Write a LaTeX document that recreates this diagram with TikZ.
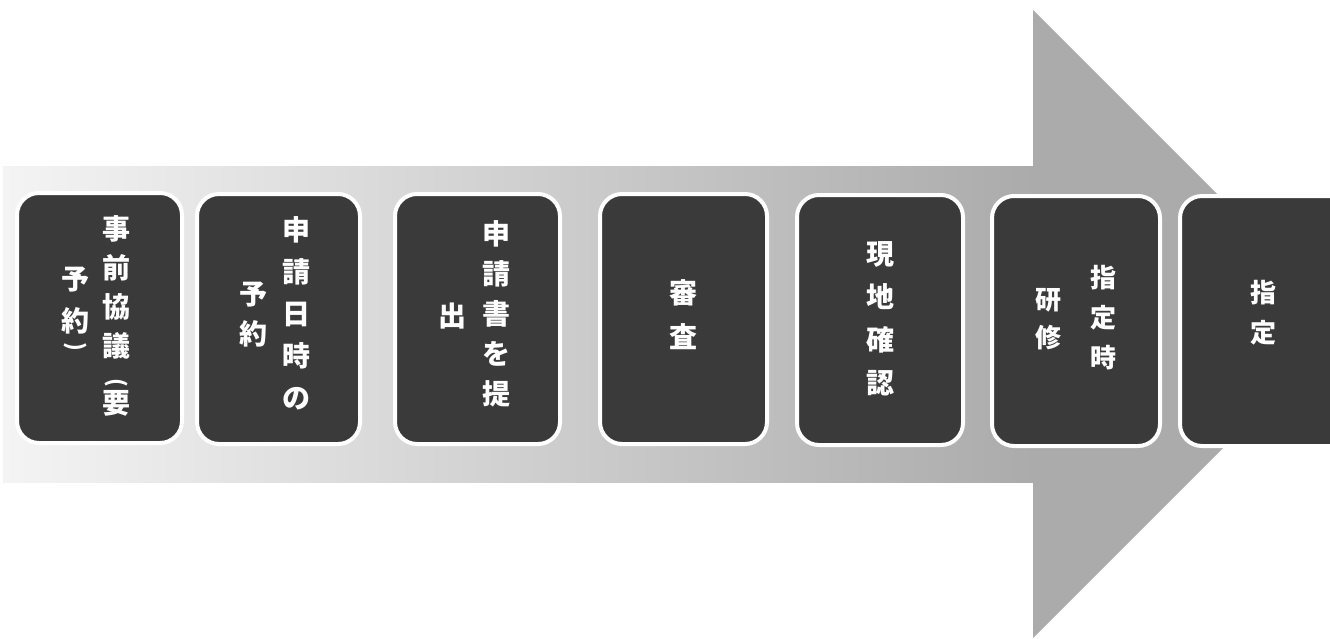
\documentclass[tikz,border=0pt]{standalone}
\usepackage{fontspec}
\newfontfamily\jp{Noto Sans CJK JP}
\definecolor{boxfill}{HTML}{3A3A3A}
\definecolor{shaftL}{HTML}{F4F4F4}
\definecolor{shaftR}{HTML}{ABABAB}
\begin{document}
\begin{tikzpicture}[x=1pt,y=-1pt,
  stepbox/.style={draw=white, line width=4pt, fill=boxfill, rounded corners=22pt,
    minimum width=#1, minimum height=250pt, inner sep=0pt},
  stepbox/.default=165pt,
  coltext/.style={text=white, font=\jp\bfseries\fontsize{28}{#1}\selectfont,
    align=center, inner sep=0pt},
  coltext/.default=41,
  smallcol/.style={text=white, font=\jp\bfseries\fontsize{26}{#1}\selectfont,
    align=center, inner sep=0pt},
  paren/.style={text=white, font=\jp\bfseries\fontsize{22}{22}\selectfont,
    inner sep=0pt, rotate=-90}]
\useasboundingbox (0,0) rectangle (1330,638);
\clip (0,0) rectangle (1330,638);
\fill[white] (0,0) rectangle (1330,638);
% arrow
\shade[left color=shaftL, right color=shaftR] (3,166) rectangle (1034,482);
\fill[shaftR] (1033,10) -- (1347,324) -- (1033,638) -- cycle;
% boxes
\node[stepbox] (b1) at (99.5,318) {};
\node[stepbox=163pt] (b2) at (278.5,319) {};
\node[stepbox] (b3) at (477.5,319) {};
\node[stepbox=167pt] (b4) at (683.5,319) {};
\node[stepbox=166pt] (b5) at (880,320) {};
\node[stepbox=168pt] (b6) at (1076,321) {};
\node[stepbox=200pt] (b7) at (1280,321) {};
% texts
\node[coltext=39] (t1r) at (116,316) {事\\前\\協\\議\\[18pt]要};
\node[paren] (t1p) at (116,383) {(};
\node[coltext=42] (t1l) at (75,301) {予\\約};
\node[paren] (t1q) at (75,347) {)};
\node[coltext=42] (t2r) at (296,313.5) {申\\請\\日\\時\\の};
\node[coltext=40] (t2l) at (253,315) {予\\約};
\node[coltext=40] (t3r) at (496,314) {申\\請\\書\\を\\提};
\node[coltext] (t3l) at (452,316) {出};
\node[coltext=44] (t4) at (683,315) {審\\査};
\node[coltext=43] (t5) at (880,319) {現\\地\\確\\認};
\node[smallcol=40] (t6r) at (1103,318) {指\\定\\時};
\node[smallcol=38] (t6l) at (1048,319) {研\\修};
\node[smallcol=40] (t7) at (1263,313) {指\\定};
\end{tikzpicture}
\end{document}
